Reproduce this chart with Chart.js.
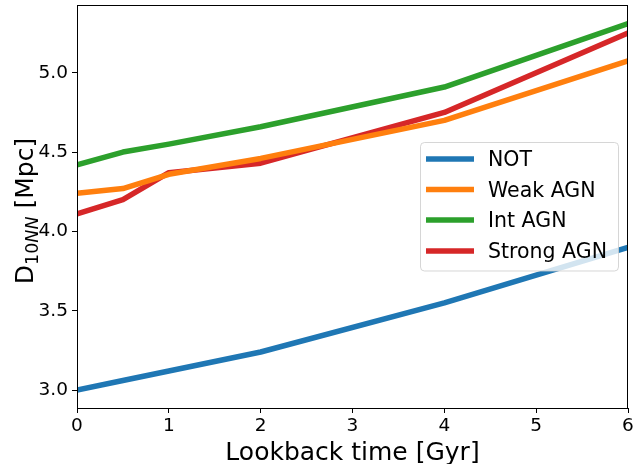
<!DOCTYPE html>
<html>
<head>
<meta charset="utf-8">
<script src="https://cdn.jsdelivr.net/npm/chart.js@4/dist/chart.umd.min.js"></script>
<style>
html,body{margin:0;padding:0;background:#fff;}
#wrap{width:634px;height:464px;}
</style>
</head>
<body>
<div id="wrap"><canvas id="c" width="634" height="464"></canvas></div>
<script>
const lookback = [0, 0.5, 1, 2, 4, 6];
const notAGN   = [3.00, 3.06, 3.12, 3.24, 3.55, 3.90];
const weakAGN  = [4.24, 4.27, 4.36, 4.46, 4.70, 5.075];
const intAGN   = [4.42, 4.50, 4.55, 4.66, 4.91, 5.31];
const strongAGN= [4.11, 4.20, 4.37, 4.43, 4.75, 5.25];
const seriesNames = ["NOT", "Weak AGN", "Int AGN", "Strong AGN"];
const seriesColors = ["#1f77b4", "#ff7f0e", "#2ca02c", "#d62728"];
const xTickValues = [0, 1, 2, 3, 4, 5, 6];
const yTickValues = [3.0, 3.5, 4.0, 4.5, 5.0];

const FONT = "'DejaVu Sans', sans-serif";
const LW = 5.5;

function pts(ys){ return lookback.map((x,i)=>({x:x, y:ys[i]})); }
const allSeries = [notAGN, weakAGN, intAGN, strongAGN];
const datasets = allSeries.map((s,i)=>({
  label: seriesNames[i],
  data: pts(s),
  borderColor: seriesColors[i],
  backgroundColor: seriesColors[i],
  borderWidth: LW,
  pointRadius: 0,
  pointHoverRadius: 0,
  tension: 0,
  fill: false,
  borderJoinStyle: 'round',
  borderCapStyle: 'butt',
  clip: 0
}));

const framePlugin = {
  id: 'frame',
  afterDatasetsDraw(chart){
    const a = chart.chartArea, ctx = chart.ctx;
    ctx.save();
    ctx.strokeStyle = '#000';
    ctx.lineWidth = 1;
    ctx.strokeRect(Math.round(a.left)+0.5, Math.round(a.top)+0.5, Math.round(a.right-a.left)-1, Math.round(a.bottom-a.top));
    ctx.restore();
  },
  afterDraw(chart){
    const ctx = chart.ctx, a = chart.chartArea;
    ctx.save();
    ctx.fillStyle = '#000';
    ctx.font = '25px ' + FONT;
    ctx.textAlign = 'center';
    ctx.textBaseline = 'alphabetic';
    ctx.fillText('Lookback time [Gyr]', (a.left+a.right)/2, 460);
    const big = '25px ' + FONT, small = '17.5px ' + FONT, smallIt = 'italic 17.5px ' + FONT;
    const parts = [
      {t:'D', f:big, dy:0},
      {t:'10', f:small, dy:4.5},
      {t:'NN', f:smallIt, dy:4.5},
      {t:' [Mpc]', f:big, dy:0}
    ];
    let total = 0;
    parts.forEach(p=>{ ctx.font = p.f; p.w = ctx.measureText(p.t).width; total += p.w; });
    ctx.translate(33, 211);
    ctx.rotate(-Math.PI/2);
    ctx.textAlign = 'left';
    let x = -total/2;
    parts.forEach(p=>{ ctx.font = p.f; ctx.fillText(p.t, x, p.dy); x += p.w; });
    ctx.restore();

    ctx.save();
    const L = 420.5, T = 142.5, R = 618.5, B = 271, r = 4;
    ctx.beginPath();
    ctx.moveTo(L+r, T); ctx.lineTo(R-r, T); ctx.quadraticCurveTo(R, T, R, T+r);
    ctx.lineTo(R, B-r); ctx.quadraticCurveTo(R, B, R-r, B);
    ctx.lineTo(L+r, B); ctx.quadraticCurveTo(L, B, L, B-r);
    ctx.lineTo(L, T+r); ctx.quadraticCurveTo(L, T, L+r, T);
    ctx.closePath();
    ctx.fillStyle = 'rgba(255,255,255,0.8)';
    ctx.fill();
    ctx.strokeStyle = 'rgba(204,204,204,0.8)';
    ctx.lineWidth = 1;
    ctx.stroke();
    const rows = [159, 189.5, 220, 251];
    ctx.font = '20.5px ' + FONT;
    ctx.textAlign = 'left';
    ctx.textBaseline = 'alphabetic';
    chart.data.datasets.forEach((ds,i)=>{
      ctx.strokeStyle = ds.borderColor;
      ctx.lineWidth = LW;
      ctx.lineCap = 'butt';
      ctx.beginPath();
      ctx.moveTo(426, rows[i]); ctx.lineTo(474, rows[i]);
      ctx.stroke();
      ctx.fillStyle = '#000';
      ctx.fillText(ds.label, 488, rows[i] + 7);
    });
    ctx.restore();
  }
};

new Chart(document.getElementById('c'), {
  type: 'line',
  data: { datasets },
  options: {
    responsive: false,
    animation: false,
    events: [],
    layout: { padding: { left: 0, right: 6, top: 5, bottom: 0 } },
    plugins: { legend: { display: false }, tooltip: { enabled: false } },
    scales: {
      x: {
        type: 'linear',
        min: 0, max: 6,
        afterFit(s){ s.height = 56; s.paddingLeft = 0; s.paddingRight = 0; },
        afterBuildTicks(s){ s.ticks = xTickValues.map(v=>({value:v})); },
        grid: { drawOnChartArea: false, drawTicks: true, tickLength: 5, color: '#000', tickWidth: 1 },
        border: { display: false },
        ticks: { color: '#000', font: { family: FONT, size: 18.5 }, padding: 2, maxRotation: 0,
                 callback: v => String(v) }
      },
      y: {
        type: 'linear',
        min: 2.887, max: 5.427,
        afterFit(s){ s.width = 77; s.paddingTop = 0; s.paddingBottom = 0; },
        afterBuildTicks(s){ s.ticks = yTickValues.map(v=>({value:v})); },
        grid: { drawOnChartArea: false, drawTicks: true, tickLength: 5, color: '#000', tickWidth: 1 },
        border: { display: false },
        ticks: { color: '#000', font: { family: FONT, size: 18.5 }, padding: 4,
                 callback: v => Number(v).toFixed(1) }
      }
    }
  },
  plugins: [framePlugin]
});
</script>
</body>
</html>
